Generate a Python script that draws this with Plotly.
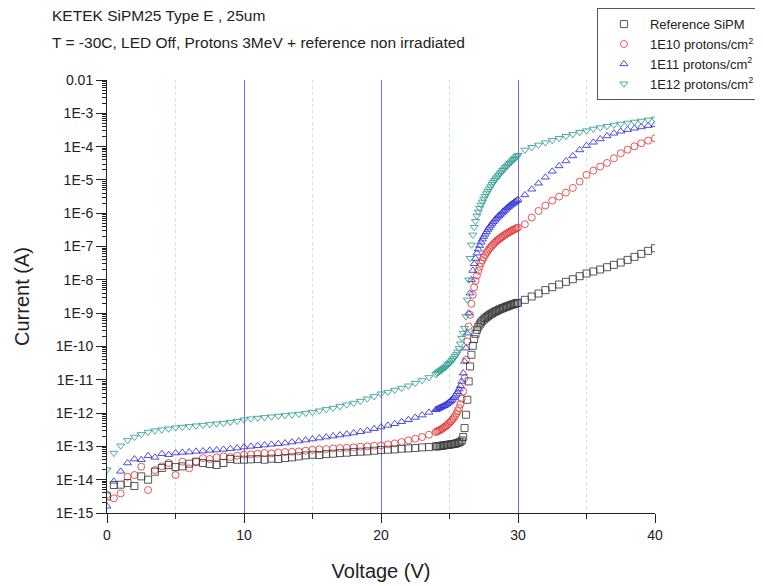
import plotly.graph_objects as go

# Voltage set-points (V)
voltage = [0.0, 0.5, 1.0, 1.5, 2.0, 2.5, 3.0, 3.5, 4.0, 4.5, 5.0, 5.5, 6.0, 6.5, 7.0, 7.5,
           8.0, 8.5, 9.0, 9.5, 10.0, 10.5, 11.0, 11.5, 12.0, 12.5, 13.0, 13.5, 14.0, 14.5,
           15.0, 15.5, 16.0, 16.5, 17.0, 17.5, 18.0, 18.5, 19.0, 19.5, 20.0, 20.5, 21.0,
           21.5, 22.0, 22.5, 23.0, 23.5, 24.0,
           24.1, 24.2, 24.3, 24.4, 24.5, 24.6, 24.7, 24.8, 24.9, 25.0,
           25.1, 25.2, 25.3, 25.4, 25.5, 25.6, 25.7, 25.8, 25.9, 26.0,
           26.1, 26.2, 26.3, 26.4, 26.5, 26.6, 26.7, 26.8, 26.9, 27.0,
           27.1, 27.2, 27.3, 27.4, 27.5, 27.6, 27.7, 27.8, 27.9, 28.0,
           28.1, 28.2, 28.3, 28.4, 28.5, 28.6, 28.7, 28.8, 28.9, 29.0,
           29.1, 29.2, 29.3, 29.4, 29.5, 29.6, 29.7, 29.8, 29.9, 30.0,
           30.5, 31.0, 31.5, 32.0, 32.5, 33.0, 33.5, 34.0, 34.5, 35.0,
           35.5, 36.0, 36.5, 37.0, 37.5, 38.0, 38.5, 39.0, 39.5, 40.0]

# log10 of current (A)
log_ref = [-14.5, -14.16, -14.15, -14.1, -14.19, -13.9, -14.0, -13.76, -13.65, -13.56, -13.62,
           -13.6, -13.52, -13.46, -13.5, -13.53, -13.56, -13.5, -13.38, -13.4, -13.4, -13.39,
           -13.38, -13.4, -13.37, -13.38, -13.35, -13.33, -13.3, -13.27, -13.25, -13.26,
           -13.23, -13.22, -13.2, -13.19, -13.17, -13.16, -13.15, -13.13, -13.11, -13.1,
           -13.09, -13.07, -13.06, -13.05, -13.03, -13.02, -13.0,
           -13.0, -12.99, -12.99, -12.98, -12.98, -12.97, -12.96, -12.96, -12.95, -12.95,
           -12.94, -12.93, -12.93, -12.92, -12.91, -12.9, -12.88, -12.86, -12.82, -12.72,
           -12.45, -12.05, -11.6, -11.05, -10.6, -10.25, -9.98, -9.78, -9.62, -9.5,
           -9.41, -9.34, -9.28, -9.23, -9.19, -9.15, -9.12, -9.09, -9.06, -9.03,
           -9.01, -8.98, -8.96, -8.94, -8.92, -8.9, -8.88, -8.86, -8.85, -8.83,
           -8.81, -8.8, -8.78, -8.77, -8.75, -8.74, -8.73, -8.71, -8.7, -8.69,
           -8.6, -8.5, -8.41, -8.31, -8.22, -8.14, -8.06, -7.98, -7.89, -7.81,
           -7.75, -7.69, -7.62, -7.55, -7.48, -7.4, -7.31, -7.22, -7.13, -7.05]

log_1e10 = [-14.45, -14.56, -14.41, -13.91, -13.86, -13.61, -14.31, -13.71, -13.6, -13.5, -13.86,
            -13.46, -13.66, -13.46, -13.35, -13.38, -13.33, -13.3, -13.32, -13.28, -13.25,
            -13.24, -13.22, -13.2, -13.21, -13.18, -13.17, -13.16, -13.15, -13.13, -13.1,
            -13.09, -13.08, -13.06, -13.05, -13.04, -13.03, -13.01, -13.0, -12.98, -12.97,
            -12.94, -12.91, -12.87, -12.82, -12.77, -12.72, -12.65, -12.57,
            -12.55, -12.53, -12.51, -12.49, -12.46, -12.43, -12.4, -12.37, -12.33, -12.29,
            -12.25, -12.2, -12.15, -12.09, -12.02, -11.94, -11.85, -11.73, -11.57, -11.35,
            -10.95, -10.4, -9.85, -9.4, -9.05, -8.72, -8.45, -8.22, -8.03, -7.87,
            -7.73, -7.61, -7.5, -7.41, -7.33, -7.26, -7.19, -7.13, -7.07, -7.02,
            -6.97, -6.93, -6.89, -6.85, -6.81, -6.78, -6.75, -6.72, -6.69, -6.66,
            -6.63, -6.61, -6.58, -6.56, -6.54, -6.51, -6.49, -6.47, -6.45, -6.43,
            -6.33, -6.13, -5.93, -5.77, -5.62, -5.5, -5.38, -5.24, -5.05, -4.85,
            -4.72, -4.6, -4.49, -4.35, -4.2, -4.09, -3.99, -3.9, -3.82, -3.75]

log_1e11 = [-14.8, -14.05, -13.75, -13.5, -13.38, -13.4, -13.28, -13.33, -13.22, -13.25, -13.2,
            -13.18, -13.17, -13.15, -13.14, -13.12, -13.11, -13.09, -13.07, -13.05, -13.02,
            -13.0, -12.98, -12.96, -12.94, -12.92, -12.9, -12.87, -12.84, -12.81, -12.78,
            -12.75, -12.72, -12.69, -12.66, -12.63, -12.6, -12.56, -12.52, -12.47, -12.42,
            -12.37, -12.32, -12.26, -12.2, -12.13, -12.06, -11.98, -11.9,
            -11.88, -11.86, -11.84, -11.82, -11.8, -11.78, -11.76, -11.73, -11.7, -11.67,
            -11.63, -11.59, -11.54, -11.49, -11.43, -11.36, -11.28, -11.18, -11.05, -10.8,
            -10.45, -10.05, -9.6, -9.0, -8.4, -8.0, -7.72, -7.52, -7.36, -7.2,
            -7.08, -6.97, -6.87, -6.78, -6.7, -6.63, -6.56, -6.49, -6.43, -6.37,
            -6.31, -6.26, -6.21, -6.16, -6.12, -6.08, -6.04, -6.0, -5.96, -5.92,
            -5.88, -5.84, -5.81, -5.77, -5.74, -5.71, -5.68, -5.65, -5.62, -5.59,
            -5.45, -5.28, -5.1, -4.92, -4.74, -4.58, -4.43, -4.28, -4.1, -3.97,
            -3.87, -3.77, -3.68, -3.6, -3.54, -3.49, -3.45, -3.41, -3.37, -3.34]

log_1e12 = [-13.7, -13.2, -12.98, -12.82, -12.72, -12.64, -12.57, -12.53, -12.5, -12.47, -12.44,
            -12.42, -12.4, -12.38, -12.36, -12.34, -12.32, -12.3, -12.27, -12.24, -12.2,
            -12.17, -12.15, -12.13, -12.11, -12.09, -12.07, -12.05, -12.03, -12.0, -11.97,
            -11.93, -11.89, -11.85, -11.8, -11.75, -11.7, -11.64, -11.57, -11.5, -11.42,
            -11.37, -11.31, -11.25, -11.18, -11.1, -11.02, -10.93, -10.84,
            -10.8, -10.77, -10.74, -10.71, -10.68, -10.65, -10.62, -10.58, -10.54, -10.5,
            -10.46, -10.41, -10.36, -10.3, -10.24, -10.16, -10.06, -9.92, -9.75, -9.6,
            -9.45, -9.1, -8.6, -8.0, -7.35, -6.95, -6.65, -6.42, -6.24, -6.08,
            -5.96, -5.85, -5.75, -5.66, -5.57, -5.49, -5.41, -5.34, -5.27, -5.2,
            -5.13, -5.07, -5.01, -4.96, -4.91, -4.86, -4.81, -4.76, -4.71, -4.67,
            -4.62, -4.58, -4.54, -4.5, -4.46, -4.42, -4.38, -4.34, -4.3, -4.26,
            -4.1, -4.02, -3.95, -3.88, -3.81, -3.75, -3.69, -3.63, -3.57, -3.52,
            -3.47, -3.43, -3.39, -3.35, -3.32, -3.29, -3.26, -3.23, -3.2, -3.17]

series_names = ["Reference SiPM", "1E10 protons/cm<sup>2</sup>",
                "1E11 protons/cm<sup>2</sup>", "1E12 protons/cm<sup>2</sup>"]
series_logs = [log_ref, log_1e10, log_1e11, log_1e12]
series_symbols = ["square-open", "circle-open", "triangle-up-open", "triangle-down-open"]
series_colors = ["#3c3c3c", "#e23a3a", "#2f2fd6", "#2e9c90"]

y_tickvals = [1e-2, 1e-3, 1e-4, 1e-5, 1e-6, 1e-7, 1e-8, 1e-9, 1e-10, 1e-11, 1e-12, 1e-13, 1e-14, 1e-15]
y_ticktext = ["0.01", "1E-3", "1E-4", "1E-5", "1E-6", "1E-7", "1E-8", "1E-9", "1E-10",
              "1E-11", "1E-12", "1E-13", "1E-14", "1E-15"]
x_tickvals = [0, 10, 20, 30, 40]

# minor tick positions on the log axis (2..9 x each decade)
y_minor = [m * 10.0 ** e for e in range(-15, -2) for m in range(2, 10)]

FONT = "Liberation Sans, Arial, sans-serif"

fig = go.Figure()
for i, (name, logs, sym, col) in enumerate(zip(series_names, series_logs, series_symbols, series_colors)):
    fig.add_trace(go.Scatter(
        x=voltage, y=[10 ** v for v in logs], mode="markers", name=name,
        xaxis="x2" if i == 0 else "x",
        marker=dict(symbol=sym, size=7, color=col, line=dict(width=1, color=col), opacity=0.85),
    ))

# page body has an 8px default margin: figure is sized/margined to compensate
fig.update_layout(
    width=755, height=578,
    margin=dict(l=99, r=108, t=72, b=73, autoexpand=False),
    paper_bgcolor="white", plot_bgcolor="white",
    font=dict(family=FONT, size=14, color="#222"),
    xaxis=dict(
        range=[0, 40], tickvals=x_tickvals, ticks="outside", ticklen=9, tickwidth=1,
        tickcolor="#222", showline=True, linecolor="#222", linewidth=1, showgrid=False,
        zeroline=False, tickfont=dict(size=14), ticklabelstandoff=0, automargin=False,
        minor=dict(tickvals=[5, 15, 25, 35], ticks="outside", ticklen=5, tickcolor="#222", showgrid=False),
        title=dict(text="Voltage (V)", font=dict(size=20), standoff=22),
    ),
    xaxis2=dict(
        range=[0, 40], overlaying="x", side="bottom", tickvals=[10, 20, 30],
        showticklabels=False, ticks="", showline=False, zeroline=False, automargin=False,
        showgrid=True, gridcolor="#7070e2", gridwidth=1,
        minor=dict(tickvals=[5, 15, 25, 35], ticks="", showgrid=True,
                   gridcolor="#c9e7dd", griddash="dot", gridwidth=1),
    ),
    yaxis=dict(
        type="log", range=[-15, -2], tickvals=y_tickvals, ticktext=y_ticktext,
        ticks="outside", ticklen=10, tickwidth=1, tickcolor="#222",
        showline=True, linecolor="#222", linewidth=1, showgrid=False, zeroline=False,
        tickfont=dict(size=14), automargin=False,
        minor=dict(tickvals=y_minor, ticks="outside", ticklen=4, tickcolor="#222", showgrid=False),
        title=dict(text="Current (A)", font=dict(size=20), standoff=20),
    ),
    legend=dict(
        x=0.894, y=1.166, xanchor="left", yanchor="top",
        bgcolor="white", bordercolor="#555", borderwidth=1,
        font=dict(size=13, family=FONT, color="#222"),
        tracegroupgap=0, itemwidth=42,
    ),
    annotations=[
        dict(text="KETEK SiPM25 Type E , 25um", xref="paper", yref="paper",
             x=-0.104, y=1.150, xanchor="left", yanchor="middle", showarrow=False,
             font=dict(size=15.5, family=FONT, color="#222")),
        dict(text="T = -30C, LED Off, Protons 3MeV + reference non irradiated",
             xref="paper", yref="paper", x=-0.104, y=1.087, xanchor="left",
             yanchor="middle", showarrow=False, font=dict(size=15.5, family=FONT, color="#222")),
    ],
)

fig.write_html("out.html", config={"displayModeBar": False})
